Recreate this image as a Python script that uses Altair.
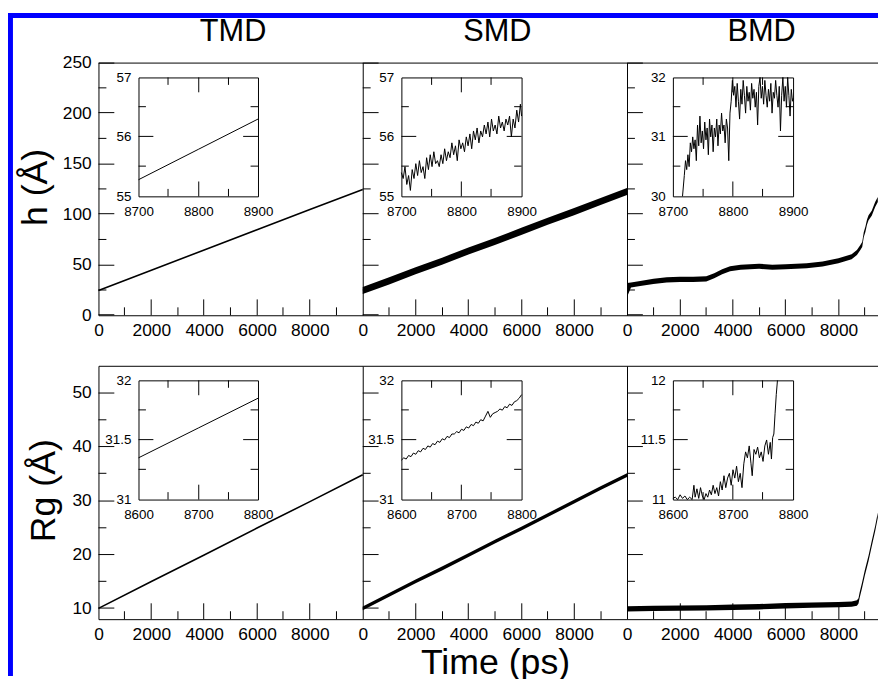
import altair as alt
import pandas as pd

# ---------------- values ----------------
TMD_T = [0, 2000, 4000, 6000, 8000, 10000]
TMD_H = [24.5, 44.5, 64.6, 84.7, 104.6, 124.5]
TMD_RG = [10.0, 15.0, 19.9, 24.9, 29.8, 34.8]

SMD_T = [0, 1000, 2000, 3000, 4000, 5000, 6000, 7000, 8000, 9000, 10000]
SMD_H_LO = [21.0, 30.5, 40.5, 50.0, 60.0, 69.5, 79.5, 89.5, 99.0, 109.0, 119.0]
SMD_H_HI = [28.0, 37.5, 47.5, 57.0, 67.0, 76.5, 86.5, 96.5, 106.0, 116.0, 126.0]
SMD_RG_LO = [9.65, 12.15, 14.65, 17.05, 19.55, 22.05, 24.45, 26.95, 29.45, 31.95, 34.35]
SMD_RG_HI = [10.35, 12.85, 15.35, 17.75, 20.25, 22.75, 25.15, 27.65, 30.15, 32.65, 35.05]

BMD_H_T = [0, 150, 500, 1000, 1500, 2000, 2500, 3000, 3300, 3600, 3900, 4300, 5000, 5500,
           6000, 6800, 7400, 8000, 8500, 8700, 8830, 8900, 8960, 9020, 9080, 9140, 9260, 9390, 9490]
BMD_H_LO = [18.0, 27.5, 29.0, 31.0, 32.5, 33.0, 33.0, 33.5, 36.5, 40.5, 43.5, 45.0, 46.0, 45.0,
            45.5, 46.5, 48.2, 51.5, 55.3, 59.5, 64.5, 67.5, 77.5, 82.5, 89.5, 94.0, 98.5, 107.0, 112.0]
BMD_H_HI = [32.0, 32.5, 34.0, 36.0, 37.5, 38.0, 38.0, 38.5, 41.5, 45.5, 48.5, 50.0, 51.0, 50.0,
            50.5, 51.5, 53.2, 56.5, 60.3, 64.5, 69.5, 72.5, 82.5, 87.5, 94.5, 99.0, 103.5, 112.0, 117.0]

BMD_RG_T = [0, 1000, 2000, 3000, 4000, 5000, 6000, 7000, 8000, 8500, 8700, 8760, 8800,
            8890, 9000, 9140, 9260, 9390, 9490]
BMD_RG_LO = [9.4, 9.5, 9.55, 9.6, 9.7, 9.8, 10.0, 10.1, 10.2, 10.3, 10.5, 10.9, 11.9,
             13.7, 16.1, 18.8, 21.5, 24.3, 26.8]
BMD_RG_HI = [10.4, 10.5, 10.55, 10.6, 10.7, 10.8, 11.0, 11.1, 11.2, 11.3, 11.5, 11.9, 12.9,
             14.7, 17.1, 19.8, 22.5, 25.3, 27.8]

TMD_H_IN_T = [8700, 8800, 8900]
TMD_H_IN = [55.28, 55.79, 56.30]
TMD_RG_IN_T = [8600, 8700, 8800]
TMD_RG_IN = [31.35, 31.60, 31.85]

SMD_H_IN_T = [8700, 8703, 8706, 8709, 8712, 8715, 8718, 8721, 8724, 8727,
              8730, 8733, 8736, 8739, 8742, 8745, 8748, 8751, 8754, 8757,
              8760, 8763, 8766, 8769, 8772, 8775, 8778, 8781, 8784, 8787,
              8790, 8793, 8796, 8799, 8802, 8805, 8808, 8811, 8814, 8817,
              8820, 8823, 8826, 8829, 8832, 8835, 8838, 8841, 8844, 8847,
              8850, 8853, 8856, 8859, 8862, 8865, 8868, 8871, 8874, 8877,
              8880, 8883, 8886, 8889, 8892, 8895, 8898, 8900]
SMD_H_IN = [55.40, 55.30, 55.50, 55.20, 55.35, 55.10, 55.45, 55.30, 55.55, 55.35,
            55.60, 55.40, 55.50, 55.30, 55.65, 55.45, 55.70, 55.50, 55.75, 55.55,
            55.60, 55.50, 55.70, 55.55, 55.80, 55.60, 55.75, 55.65, 55.90, 55.70,
            55.85, 55.60, 55.95, 55.80, 55.90, 55.75, 56.00, 55.85, 56.05, 55.80,
            56.10, 55.95, 56.15, 55.90, 56.10, 56.00, 56.20, 56.05, 56.25, 56.00,
            56.30, 56.10, 56.20, 56.05, 56.35, 56.15, 56.25, 56.10, 56.30, 56.20,
            56.35, 56.00, 56.30, 56.15, 56.45, 56.25, 56.55, 56.35]

SMD_RG_IN_T = [8600, 8604, 8608, 8612, 8616, 8620, 8624, 8628, 8632, 8636,
               8640, 8644, 8648, 8652, 8656, 8660, 8664, 8668, 8672, 8676,
               8680, 8684, 8688, 8692, 8696, 8700, 8704, 8708, 8712, 8716,
               8720, 8724, 8728, 8732, 8736, 8740, 8744, 8748, 8752, 8756,
               8760, 8764, 8768, 8772, 8776, 8780, 8784, 8788, 8792, 8796, 8800]
SMD_RG_IN = [31.33, 31.35, 31.34, 31.37, 31.36, 31.39, 31.38, 31.41, 31.40, 31.43,
             31.42, 31.45, 31.44, 31.47, 31.46, 31.49, 31.48, 31.51, 31.50, 31.53,
             31.52, 31.55, 31.55, 31.57, 31.56, 31.59, 31.58, 31.61, 31.60, 31.63,
             31.62, 31.65, 31.64, 31.67, 31.66, 31.70, 31.74, 31.69, 31.72, 31.73,
             31.74, 31.76, 31.75, 31.78, 31.77, 31.80, 31.79, 31.82, 31.83, 31.85, 31.88]

BMD_H_IN_T = [8716, 8719, 8721, 8723, 8725, 8727, 8729, 8731, 8733, 8735,
              8737, 8739, 8741, 8743, 8745, 8747, 8749, 8751, 8753, 8755,
              8757, 8759, 8761, 8763, 8765, 8767, 8769, 8771, 8773, 8775,
              8777, 8779, 8781, 8783, 8785, 8787, 8789, 8791, 8793, 8795,
              8797, 8799, 8801, 8803, 8805, 8807, 8809, 8811, 8813, 8815,
              8817, 8819, 8821, 8823, 8825, 8827, 8829, 8831, 8833, 8835,
              8837, 8839, 8841, 8843, 8845, 8847, 8849, 8851, 8853, 8855,
              8857, 8859, 8861, 8863, 8865, 8867, 8869, 8871, 8873, 8875,
              8877, 8879, 8881, 8883, 8885, 8887, 8889, 8891, 8893, 8895,
              8897, 8899, 8900]
BMD_H_IN = [30.00, 30.35, 30.60, 30.45, 30.70, 30.50, 30.90, 30.75, 31.00, 30.80,
            30.95, 30.60, 31.20, 30.85, 31.35, 30.90, 31.10, 30.80, 31.25, 30.95,
            31.15, 30.70, 31.30, 31.00, 31.20, 30.75, 31.15, 31.00, 31.30, 30.85,
            31.20, 31.05, 31.40, 31.10, 31.20, 30.90, 31.30, 31.15, 30.60, 31.40,
            31.60, 31.95, 31.70, 31.85, 31.50, 31.90, 31.60, 31.30, 31.80, 31.55,
            31.95, 31.70, 31.40, 31.85, 31.60, 31.75, 31.45, 31.90, 31.65, 31.80,
            31.50, 31.75, 31.20, 31.85, 32.00, 31.65, 31.85, 31.55, 31.95, 31.70,
            31.50, 31.80, 31.60, 31.90, 31.40, 31.75, 31.65, 31.95, 31.70, 31.50,
            31.85, 31.10, 31.70, 32.00, 31.60, 31.85, 31.50, 32.00, 31.70, 31.35,
            31.80, 31.60, 31.65]

BMD_RG_IN_T = [8600, 8604, 8608, 8612, 8616, 8620, 8624, 8628, 8632, 8635,
               8637, 8640, 8643, 8646, 8649, 8652, 8655, 8658, 8661, 8664,
               8667, 8670, 8673, 8676, 8679, 8682, 8685, 8688, 8691, 8694,
               8697, 8700, 8703, 8706, 8709, 8712, 8715, 8718, 8721, 8724,
               8727, 8730, 8732, 8735, 8738, 8741, 8744, 8747, 8750, 8753,
               8756, 8759, 8762, 8764, 8766, 8768, 8770, 8772, 8774]
BMD_RG_IN = [11.01, 11.02, 11.00, 11.04, 11.01, 11.03, 11.00, 11.02, 11.00, 11.12,
             11.02, 11.09, 11.01, 11.10, 11.03, 11.00, 11.05, 11.02, 11.08, 11.04,
             11.12, 11.05, 11.10, 11.03, 11.15, 11.08, 11.20, 11.10, 11.18, 11.22,
             11.12, 11.25, 11.18, 11.28, 11.15, 11.22, 11.10, 11.30, 11.40, 11.35,
             11.45, 11.30, 11.20, 11.42, 11.38, 11.44, 11.35, 11.40, 11.32, 11.45,
             11.50, 11.38, 11.48, 11.34, 11.52, 11.55, 11.72, 11.88, 12.00]

# tick values / labels
X_DOM = [0, 10000]
X_MAJOR = [0, 2000, 4000, 6000, 8000]
X_MINOR = [1000, 3000, 5000, 7000, 9000]
Y_DOM = [[0, 250], [8, 55]]
Y_MAJOR = [[0, 50, 100, 150, 200, 250], [10, 20, 30, 40, 50]]
Y_MINOR = [[25, 75, 125, 175, 225], [15, 25, 35, 45]]
COL_TITLES = ["TMD", "SMD", "BMD"]

# ---------------- layout (page pixels) ----------------
OX, OY = 8, 8
W, H = 878, 671
COL_X = [99.3, 366.0, 632.7]
COL_W = 266.7
ROW_Y = [(60.0, 315.0), (366.0, 621.7)]
INSET_X = [(139.7, 260.3), (405.0, 526.3), (679.0, 800.3)]
INSET_Y = [(75.0, 195.0), (380.7, 501.0)]
FONT = "Liberation Sans"
FMT = ".6~g"
MAJ, MIN = 16, 8
IMAJ, IMIN = 15, 7.5

ONE = pd.DataFrame({"k": [0]})


def scale(dom, r0, r1, clamp=False):
    return alt.Scale(domain=dom, range=[r0, r1], nice=False, zero=False, clamp=clamp)


def to_px(v, dom, rng):
    """same linear mapping as the Vega-Lite scale with that domain/range"""
    return rng[0] + (v - dom[0]) / (dom[1] - dom[0]) * (rng[1] - rng[0])


def crisp(p):
    return round(p - 0.5) + 0.5


def ax(orient, offset, values=None, labels=False, domain=False, fs=17.5, pad=0.0, **kw):
    a = dict(orient=orient, offset=offset, grid=False, domain=domain, labels=labels,
             ticks=False, title=None, format=FMT)
    if domain:
        a.update(domainColor="black", domainWidth=1)
    if values:
        a["values"] = values
    if labels:
        a.update(labelFont=FONT, labelFontSize=fs, labelColor="black", labelPadding=pad,
                 labelFlush=False, labelOverlap=False)
    a.update(kw)
    return alt.Axis(**a)


def tick_rules(xd, xr, yd, yr, edges):
    """Inward tick marks, one single-item rule per tick, placed with the scale mapping."""
    out = []
    for side, vals, L in edges:
        for val in vals:
            if side in ("bottom", "top"):
                x = crisp(to_px(val, xd, xr))
                y0 = yr[0] if side == "bottom" else yr[1]
                y1 = y0 - L if side == "bottom" else y0 + L
                out.append(alt.Chart(ONE).mark_rule(color="black", strokeWidth=1).encode(
                    x=alt.value(x), y=alt.value(y0), y2=alt.value(y1)))
            else:
                y = crisp(to_px(val, yd, yr))
                x0 = xr[0] if side == "left" else xr[1]
                x1 = x0 + L if side == "left" else x0 - L
                out.append(alt.Chart(ONE).mark_rule(color="black", strokeWidth=1).encode(
                    y=alt.value(y), x=alt.value(x0), x2=alt.value(x1)))
    return out


TITLE_KW = dict(titleFont=FONT, titleFontWeight="normal", titleColor="black",
                titleAlign="center", titleBaseline="alphabetic")

PANELS = [
    (0, 0, "line", TMD_T, TMD_H, None),
    (0, 1, "band", SMD_T, SMD_H_LO, SMD_H_HI),
    (0, 2, "band", BMD_H_T, BMD_H_LO, BMD_H_HI),
    (1, 0, "line", TMD_T, TMD_RG, None),
    (1, 1, "band", SMD_T, SMD_RG_LO, SMD_RG_HI),
    (1, 2, "band", BMD_RG_T, BMD_RG_LO, BMD_RG_HI),
]

INSETS = [
    (0, 0, TMD_H_IN_T, TMD_H_IN, [8700, 8900], [55, 57], [8700, 8800, 8900], [8750, 8850], [55, 56, 57], [55.5, 56.5]),
    (0, 1, SMD_H_IN_T, SMD_H_IN, [8700, 8900], [55, 57], [8700, 8800, 8900], [8750, 8850], [55, 56, 57], [55.5, 56.5]),
    (0, 2, BMD_H_IN_T, BMD_H_IN, [8700, 8900], [30, 32], [8700, 8800, 8900], [8750, 8850], [30, 31, 32], [30.5, 31.5]),
    (1, 0, TMD_RG_IN_T, TMD_RG_IN, [8600, 8800], [31, 32], [8600, 8700, 8800], [8650, 8750], [31, 31.5, 32], [31.25, 31.75]),
    (1, 1, SMD_RG_IN_T, SMD_RG_IN, [8600, 8800], [31, 32], [8600, 8700, 8800], [8650, 8750], [31, 31.5, 32], [31.25, 31.75]),
    (1, 2, BMD_RG_IN_T, BMD_RG_IN, [8600, 8800], [11, 12], [8600, 8700, 8800], [8650, 8750], [11, 11.5, 12], [11.25, 11.75]),
]

layers = []

for r, c, kind, t, lo, hi in PANELS:
    x0 = COL_X[c] - OX
    yb = ROW_Y[r][1] - OY
    yt = ROW_Y[r][0] - OY
    xsc = scale(X_DOM, x0, x0 + COL_W)
    ysc = scale(Y_DOM[r], yb, yt)

    xkw, ykw = {}, {}
    if r == 1 and c == 1:
        xkw = dict(title="Time (ps)", titleFontSize=36, titleX=491.5, titleY=55.0, titleAngle=0, **TITLE_KW)
    if c == 0:
        ykw = dict(title="h (Å)" if r == 0 else "Rg (Å)", titleFontSize=36,
                   titleX=(-52.6 if r == 0 else -44.3), titleY=(177.5 if r == 0 else 483.5),
                   titleAngle=270, **TITLE_KW)

    xa = ax("bottom", yb - H, X_MAJOR, labels=True, domain=True, fs=17.5, pad=6.7, **xkw)
    ya = ax("left", -x0, Y_MAJOR[r], labels=(c == 0), domain=True, fs=17.5, pad=7.3, **ykw)

    if kind == "line":
        df = pd.DataFrame({"t": t, "v": lo})
        main = alt.Chart(df).mark_line(color="black", strokeWidth=1.6).encode(
            x=alt.X("t:Q", scale=xsc, axis=xa), y=alt.Y("v:Q", scale=ysc, axis=ya))
    else:
        df = pd.DataFrame({"t": t, "lo": lo, "hi": hi})
        main = alt.Chart(df).mark_area(color="black", opacity=1).encode(
            x=alt.X("t:Q", scale=xsc, axis=xa), y=alt.Y("lo:Q", scale=ysc, axis=ya), y2="hi:Q")
    layers.append(main)

    helper = pd.DataFrame({"t": X_DOM, "v": Y_DOM[r]})
    tkw = {}
    if r == 0:
        tkw = dict(title=COL_TITLES[c], titleFontSize=31, titleX=COL_X[c] + COL_W / 2 + 2 - OX,
                   titleY=-22, titleAngle=0, **TITLE_KW)
    layers.append(alt.Chart(helper).mark_point(opacity=0).encode(
        x=alt.X("t:Q", scale=xsc, axis=ax("top", -yt, domain=True, **tkw)),
        y=alt.Y("v:Q", scale=ysc, axis=None)))

    layers.extend(tick_rules(X_DOM, [x0, x0 + COL_W], Y_DOM[r], [yb, yt], [
        ("bottom", X_MAJOR[1:], MAJ), ("bottom", X_MINOR, MIN),
        ("left", Y_MAJOR[r], MAJ), ("left", Y_MINOR[r], MIN)]))

for r, c, t, v, xd, yd, xmaj, xmin, ymaj, ymin in INSETS:
    ix0 = INSET_X[c][0] - OX
    ix1 = INSET_X[c][1] - OX
    iyt = INSET_Y[r][0] - OY
    iyb = INSET_Y[r][1] - OY
    xsc = scale(xd, ix0, ix1, clamp=True)
    ysc = scale(yd, iyb, iyt, clamp=True)
    df = pd.DataFrame({"t": t, "v": v})
    layers.append(alt.Chart(df).mark_line(color="black", strokeWidth=1).encode(
        x=alt.X("t:Q", scale=xsc, axis=ax("bottom", iyb - H, xmaj, labels=True, domain=True, fs=13.5, pad=8)),
        y=alt.Y("v:Q", scale=ysc, axis=ax("left", -ix0, ymaj, labels=True, domain=True, fs=13.5, pad=7.7))))
    helper = pd.DataFrame({"t": xd, "v": yd})
    layers.append(alt.Chart(helper).mark_point(opacity=0).encode(
        x=alt.X("t:Q", scale=xsc, axis=ax("top", -iyt, domain=True)),
        y=alt.Y("v:Q", scale=ysc, axis=ax("right", ix1 - W, domain=True))))
    inner_xmaj = xmaj[1:-1]
    inner_ymaj = ymaj[1:-1]
    layers.extend(tick_rules(xd, [ix0, ix1], yd, [iyb, iyt], [
        ("bottom", inner_xmaj, IMAJ), ("bottom", xmin, IMIN),
        ("top", inner_xmaj, IMAJ), ("top", xmin, IMIN),
        ("left", inner_ymaj, IMAJ), ("left", ymin, IMIN),
        ("right", inner_ymaj, IMAJ), ("right", ymin, IMIN)]))

layers.append(alt.Chart(ONE).mark_rule(color="#0000FF", strokeWidth=5).encode(
    x=alt.value(0), x2=alt.value(W), y=alt.value(4.5)))
layers.append(alt.Chart(ONE).mark_rule(color="#0000FF", strokeWidth=5).encode(
    x=alt.value(2.5), y=alt.value(2), y2=alt.value(H)))

chart = (
    alt.layer(*layers)
    .resolve_scale(x="independent", y="independent")
    .resolve_axis(x="independent", y="independent")
    .properties(width=W, height=H, padding=0, background="white",
                autosize=alt.AutoSizeParams(type="none"))
    .configure_view(stroke=None)
)

chart.save("out.html", embed_options={"renderer": "svg", "actions": False})
